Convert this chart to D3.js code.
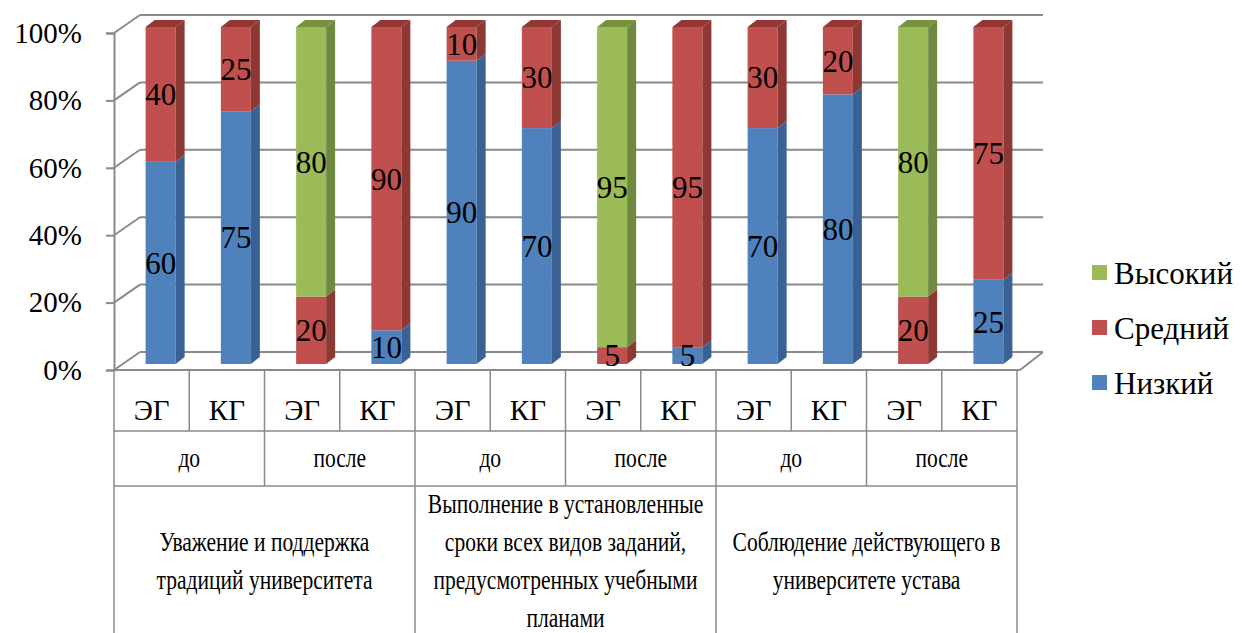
<!DOCTYPE html>
<html>
<head>
<meta charset="utf-8">
<script src="https://cdn.jsdelivr.net/npm/d3@7"></script>
<style>
  body { margin: 0; background: #fff; }
  svg { display: block; }
  text { font-family: "Liberation Serif", "Times New Roman", serif; fill: #000; }
</style>
</head>
<body>
<svg id="chart" width="1244" height="633"></svg>
<script>
// ---- data ----
const topics = [
  ["Уважение и поддержка", "традиций университета"],
  ["Выполнение в установленные", "сроки всех видов заданий,", "предусмотренных учебными", "планами"],
  ["Соблюдение действующего в", "университете устава"]
];
const phases = ["до", "после"];
const groups = ["ЭГ", "КГ"];
const seriesNames = ["Низкий", "Средний", "Высокий"];
const lowValues  = [60, 75, 0, 10, 90, 70, 0, 5, 70, 80, 0, 25];
const midValues  = [40, 25, 20, 90, 10, 30, 5, 95, 30, 20, 20, 75];
const highValues = [0, 0, 80, 0, 0, 0, 95, 0, 0, 0, 80, 0];
const yTicks = [0, 20, 40, 60, 80, 100];

// ---- palette: front / side / top faces ----
const palette = {
  "Низкий":  { front: "#4F81BD", side: "#3A6194", top: "#3F6A9E" },
  "Средний": { front: "#C0504D", side: "#8E3835", top: "#943634" },
  "Высокий": { front: "#9BBB59", side: "#6F893E", top: "#76923C" }
};
const gridColor = "#8a8a8a";
const tableColor = "#8a8a8a";

// ---- layout ----
const svg = d3.select("#chart");
const left = 114, right = 1017, floorY = 370, topY = 33;
const nBars = lowValues.length;

const x = d3.scaleBand().domain(d3.range(nBars)).range([left, right]);
const y = d3.scaleLinear().domain([0, 100]).range([floorY, topY]);

const back = { dx: 26, dy: -18 };     // back wall offset from the front plane
const barOff = { dx: 9, dy: -6 };     // bar front face offset
const depth = { dx: 9, dy: -7 };      // bar thickness
const barW = 30;

const rows = d3.range(nBars).map(i => ({
  "Низкий": lowValues[i], "Средний": midValues[i], "Высокий": highValues[i]
}));
const stacked = d3.stack().keys(seriesNames)(rows);

// ---- walls and gridlines ----
const walls = svg.append("g").attr("stroke", gridColor).attr("stroke-width", 2).attr("fill", "none");
yTicks.forEach(t => {
  // back wall line
  walls.append("line")
    .attr("x1", left + back.dx).attr("x2", right + back.dx)
    .attr("y1", y(t) + back.dy).attr("y2", y(t) + back.dy);
  // side wall diagonal
  walls.append("line")
    .attr("x1", left).attr("x2", left + back.dx)
    .attr("y1", y(t)).attr("y2", y(t) + back.dy);
});
// floor right edge
walls.append("line")
  .attr("x1", right + 3).attr("y1", floorY)
  .attr("x2", right + back.dx).attr("y2", floorY + back.dy);
// floor front edge
walls.append("line")
  .attr("x1", left).attr("x2", right + 3)
  .attr("y1", floorY).attr("y2", floorY);

// ---- value axis ----
const axis = d3.axisLeft(y)
  .tickValues(yTicks)
  .tickFormat(d => d + "%")
  .tickSize(8)
  .tickPadding(24);
const axisG = svg.append("g").attr("transform", `translate(${left},0)`).call(axis);
axisG.select(".domain").attr("stroke", gridColor).attr("stroke-width", 2);
axisG.selectAll(".tick line").attr("stroke", gridColor).attr("stroke-width", 2);
axisG.selectAll(".tick text")
  .attr("font-family", "Liberation Serif, serif")
  .attr("font-size", 29)
  .attr("fill", "#000");

// ---- 3D stacked bars ----
const yb = v => y(v) + barOff.dy;
const barsG = svg.append("g");
d3.range(nBars).forEach(i => {
  const cx = x(i) + x.bandwidth() / 2 + barOff.dx;
  const x0 = cx - barW / 2, x1 = cx + barW / 2;
  stacked.forEach(layer => {
    const [s0, s1] = layer[i];
    if (s1 - s0 <= 0) return;
    const c = palette[layer.key];
    barsG.append("rect")
      .attr("x", x0).attr("y", yb(s1))
      .attr("width", barW).attr("height", yb(s0) - yb(s1))
      .attr("fill", c.front);
    barsG.append("polygon")
      .attr("points", [
        [x1, yb(s1)], [x1 + depth.dx, yb(s1) + depth.dy],
        [x1 + depth.dx, yb(s0) + depth.dy], [x1, yb(s0)]
      ].join(" "))
      .attr("fill", c.side);
    if (s1 >= 100) {
      barsG.append("polygon")
        .attr("points", [
          [x0, yb(s1)], [x1, yb(s1)],
          [x1 + depth.dx, yb(s1) + depth.dy], [x0 + depth.dx, yb(s1) + depth.dy]
        ].join(" "))
        .attr("fill", c.top);
    }
  });
});

// ---- value labels ----
const labelsG = svg.append("g");
d3.range(nBars).forEach(i => {
  const cx = x(i) + x.bandwidth() / 2 + barOff.dx;
  stacked.forEach(layer => {
    const [s0, s1] = layer[i];
    const v = s1 - s0;
    if (v <= 0) return;
    labelsG.append("text")
      .attr("x", cx)
      .attr("y", (yb(s0) + yb(s1)) / 2)
      .attr("dy", "0.35em")
      .attr("text-anchor", "middle")
      .attr("font-size", 31)
      .text(v);
  });
});

// ---- category table ----
const row1Bottom = 431, row2Bottom = 486, tableBottom = 640;
const table = svg.append("g").attr("stroke", tableColor).attr("stroke-width", 1.5);
// horizontal row separators
[row1Bottom, row2Bottom].forEach(yy => {
  table.append("line").attr("x1", left).attr("x2", right).attr("y1", yy).attr("y2", yy);
});
// row 1 verticals (every bar)
d3.range(nBars + 1).forEach(k => {
  const xx = k < nBars ? x(k) : right;
  table.append("line").attr("x1", xx).attr("x2", xx).attr("y1", floorY).attr("y2", row1Bottom);
});
// row 2 verticals (every phase)
d3.range(0, nBars + 1, groups.length).forEach(k => {
  const xx = k < nBars ? x(k) : right;
  table.append("line").attr("x1", xx).attr("x2", xx).attr("y1", row1Bottom).attr("y2", row2Bottom);
});
// row 3 verticals (every topic)
d3.range(0, nBars + 1, groups.length * phases.length).forEach(k => {
  const xx = k < nBars ? x(k) : right;
  table.append("line").attr("x1", xx).attr("x2", xx).attr("y1", row2Bottom).attr("y2", tableBottom);
});

const bw = x.bandwidth();
const textG = svg.append("g");
// row 1: groups
d3.range(nBars).forEach(i => {
  textG.append("text")
    .attr("x", x(i) + bw / 2).attr("y", 420)
    .attr("text-anchor", "middle")
    .attr("font-size", 29)
    .text(groups[i % groups.length]);
});
// row 2: phases (condensed)
const squeeze = 0.77;
d3.range(nBars / groups.length).forEach(j => {
  const cxp = x(j * groups.length) + bw * groups.length / 2;
  textG.append("text")
    .attr("transform", `translate(${cxp},467) scale(${squeeze},1)`)
    .attr("text-anchor", "middle")
    .attr("font-size", 28)
    .text(phases[j % phases.length]);
});
// row 3: topics (condensed, multi-line)
const span = groups.length * phases.length;
const lineGap = 38, blockMid = 569;
topics.forEach((lines, t) => {
  const cxt = x(t * span) + bw * span / 2;
  const firstBase = blockMid - (lines.length - 1) * lineGap / 2 + 0;
  lines.forEach((ln, k) => {
    textG.append("text")
      .attr("transform", `translate(${cxt},${firstBase + k * lineGap + 1}) scale(${squeeze},1)`)
      .attr("text-anchor", "middle")
      .attr("font-size", 28)
      .text(ln);
  });
});

// ---- legend ----
const legendItems = seriesNames.slice().reverse();
const legend = svg.append("g");
legendItems.forEach((name, k) => {
  const cy = 273 + k * 55;
  legend.append("rect")
    .attr("x", 1092).attr("y", cy - 8)
    .attr("width", 15).attr("height", 15)
    .attr("fill", palette[name].front);
  legend.append("text")
    .attr("x", 1114).attr("y", cy)
    .attr("dy", "0.35em")
    .attr("font-size", 31)
    .text(name);
});
</script>
</body>
</html>
